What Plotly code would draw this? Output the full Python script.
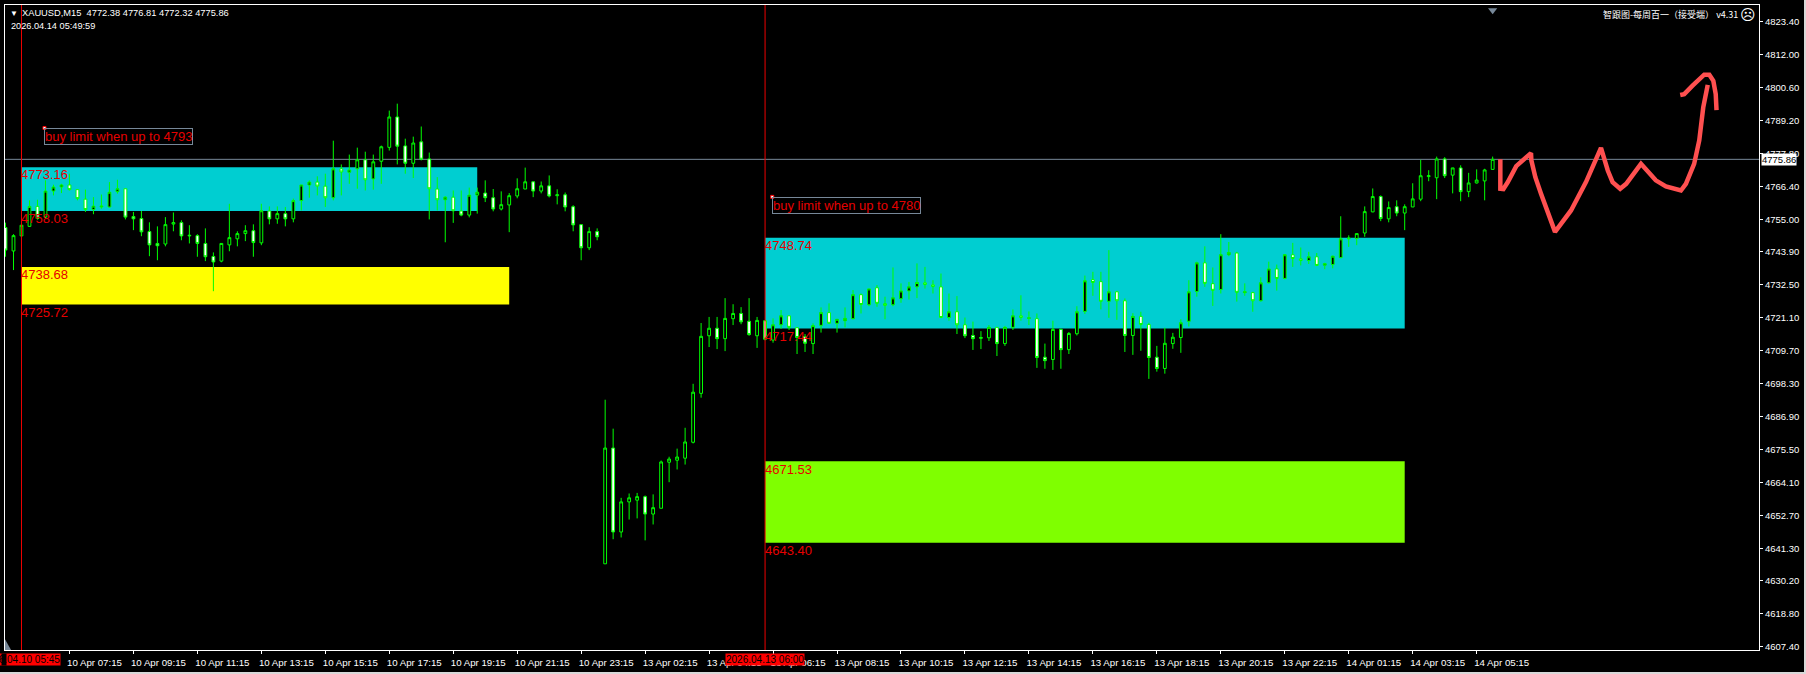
import plotly.graph_objects as go

# (open, high, low, close) per bar
opens = [4752.3,4744.2,4749.4,4752.7,4759.6,4755.9,4764.9,4766.3,4767.0,4765.4,4762.1,4758.5,4759.4,4759.4,4764.7,4765.7,4756.1,4755.4,4750.9,4746.8,
4746.6,4753.5,4754.0,4749.4,4749.5,4746.8,4742.3,4740.7,4746.3,4748.4,4750.2,4751.2,4747.0,4758.0,4755.3,4757.1,4755.3,4761.6,4767.0,4768.0,
4766.6,4762.6,4772.6,4771.4,4772.6,4775.7,4769.1,4775.2,4780.0,4790.5,4780.5,4774.5,4781.9,4776.0,4765.6,4761.9,4762.8,4758.0,4756.6,4763.5,
4764.2,4762.6,4758.7,4760.1,4763.2,4765.6,4768.1,4764.9,4766.7,4763.3,4763.6,4759.5,4753.3,4745.3,4750.9,
4636.1,4676.1,4647.1,4657.5,4658.1,4659.3,4653.3,4655.3,4671.2,4671.9,4672.6,4678.1,4695.0,4714.9,4717.5,4713.9,4720.8,4722.6,4719.9,4714.9,
4720.1,4713.4,4718.7,4721.8,4717.7,4714.6,4712.2,4718.5,4722.9,4719.2,4720.1,4720.8,4729.1,4725.6,4731.5,4726.0,4725.6,4727.7,4730.4,4731.8,
4733.2,4732.5,4731.8,4721.2,4723.2,4718.7,4715.0,4714.0,4714.2,4717.8,4712.2,4717.8,4721.8,4720.9,4720.8,4707.5,4706.7,4717.1,4710.1,4715.6,
4723.3,4734.3,4733.6,4726.8,4730.1,4727.0,4715.0,4721.6,4718.8,4707.5,4703.6,4712.2,4714.3,4719.9,4730.2,4740.1,4732.9,4730.9,4742.9,4743.5,
4729.8,4729.8,4727.0,4733.2,4738.0,4734.7,4742.9,4741.5,4740.9,4742.2,4739.3,4739.5,4741.9,4748.4,4748.5,4750.4,4757.7,4763.0,4755.3,4759.5,
4757.3,4759.4,4762.1,4769.9,4769.5,4776.0,4770.4,4772.9,4764.7,4767.7,4768.4,4772.38]
highs = [4754.0,4750.0,4753.1,4761.7,4761.9,4768.6,4767.1,4767.4,4770.9,4765.4,4765.4,4762.8,4763.7,4768.0,4768.8,4765.7,4757.7,4758.0,4754.1,4752.7,
4755.9,4757.5,4754.8,4753.1,4750.0,4752.0,4743.7,4746.8,4760.5,4751.0,4753.1,4753.4,4760.5,4759.6,4759.6,4759.4,4762.3,4767.0,4768.6,4770.0,
4770.9,4782.3,4774.1,4777.5,4779.9,4778.5,4777.5,4780.6,4792.7,4795.1,4783.0,4783.7,4787.2,4778.2,4769.7,4763.1,4765.1,4765.1,4766.1,4766.1,
4768.6,4765.6,4764.8,4764.2,4769.3,4773.0,4768.1,4768.2,4770.3,4765.5,4764.4,4760.0,4753.3,4752.4,4752.0,
4692.8,4682.8,4658.9,4660.4,4660.6,4659.7,4660.1,4671.8,4673.1,4675.9,4683.1,4698.3,4719.3,4721.4,4721.4,4727.9,4725.8,4724.8,4727.9,4721.4,
4720.3,4720.9,4723.8,4721.8,4717.7,4715.5,4719.2,4724.7,4726.1,4720.6,4724.7,4730.7,4729.5,4731.1,4732.4,4728.4,4738.5,4733.0,4733.5,4739.9,
4738.7,4734.1,4736.4,4729.5,4728.6,4721.2,4719.8,4716.5,4718.6,4717.8,4718.3,4724.0,4728.9,4723.3,4722.6,4712.2,4720.1,4717.4,4716.2,4725.1,
4735.7,4737.0,4737.0,4744.5,4730.4,4727.8,4722.7,4723.2,4719.4,4711.4,4717.7,4715.9,4720.6,4734.1,4740.5,4745.8,4738.5,4750.0,4747.3,4743.9,
4733.0,4730.1,4735.1,4740.5,4739.5,4743.1,4747.0,4745.4,4743.9,4743.5,4740.1,4742.6,4756.2,4749.6,4750.2,4759.6,4765.8,4763.4,4761.3,4761.7,
4760.3,4767.6,4775.7,4772.1,4776.8,4776.6,4772.9,4773.8,4771.2,4772.4,4772.6,4776.81]
lows = [4742.2,4737.6,4749.4,4752.5,4755.0,4755.4,4763.4,4764.2,4765.1,4761.7,4757.7,4756.9,4758.8,4759.2,4764.0,4755.1,4751.4,4749.3,4742.4,4741.0,
4745.8,4751.0,4747.9,4746.8,4742.2,4740.7,4730.3,4740.3,4744.1,4745.8,4747.6,4742.2,4746.2,4753.4,4753.6,4752.7,4754.1,4758.2,4762.6,4763.4,
4759.4,4761.7,4763.4,4767.4,4765.7,4765.1,4765.4,4767.4,4778.9,4774.1,4770.9,4769.4,4775.5,4755.1,4758.2,4747.2,4753.9,4756.2,4755.8,4757.1,
4761.1,4757.9,4758.2,4750.7,4762.4,4765.6,4762.8,4764.1,4762.7,4760.3,4757.9,4751.0,4741.0,4744.5,4747.9,
4636.1,4644.6,4645.2,4651.4,4651.8,4644.2,4649.7,4655.3,4664.3,4668.7,4670.4,4677.7,4693.5,4711.0,4710.3,4709.6,4718.6,4718.9,4714.9,4710.7,
4713.3,4712.5,4717.3,4716.9,4708.6,4709.3,4708.6,4716.0,4719.0,4716.0,4717.8,4720.6,4722.6,4725.1,4724.9,4720.6,4725.1,4726.3,4727.4,4727.9,
4731.2,4729.5,4721.2,4720.1,4715.5,4714.1,4710.0,4710.3,4713.1,4707.9,4711.4,4716.9,4720.1,4718.6,4703.8,4703.5,4703.1,4703.5,4708.6,4715.0,
4722.4,4728.7,4724.0,4721.1,4720.4,4709.3,4708.3,4709.7,4700.0,4702.5,4701.8,4710.4,4709.0,4718.1,4728.4,4731.8,4725.2,4729.5,4742.4,4726.7,
4728.7,4723.2,4726.7,4733.0,4730.5,4734.4,4738.7,4739.2,4739.7,4739.0,4737.9,4738.2,4741.7,4745.6,4746.2,4749.1,4757.6,4754.5,4754.1,4756.2,
4751.4,4759.4,4761.4,4768.3,4762.1,4769.4,4764.1,4761.4,4762.8,4767.5,4761.7,4772.32]
closes = [4744.5,4749.5,4753.1,4759.6,4755.4,4764.9,4766.3,4767.0,4765.4,4762.3,4758.5,4759.7,4759.7,4764.5,4765.7,4755.9,4755.3,4750.8,4746.3,4746.0,
4753.3,4754.0,4749.4,4749.6,4746.8,4742.2,4740.4,4746.8,4748.8,4750.2,4751.2,4747.1,4758.1,4755.3,4757.1,4755.3,4761.6,4767.0,4768.0,4766.6,
4762.6,4772.6,4771.5,4772.2,4775.7,4768.8,4775.0,4780.2,4790.5,4780.4,4774.5,4781.5,4775.9,4765.7,4761.9,4762.8,4758.1,4756.6,4763.5,4764.5,
4762.6,4758.7,4760.2,4763.3,4765.7,4768.1,4764.9,4766.7,4763.2,4763.6,4759.4,4753.2,4745.3,4750.9,4749.1,
4676.1,4647.1,4657.5,4658.9,4659.3,4653.3,4655.5,4671.3,4672.3,4673.0,4678.2,4695.4,4714.7,4717.5,4713.9,4720.9,4722.6,4719.7,4715.3,4720.2,
4713.7,4718.7,4721.8,4717.8,4714.3,4712.3,4718.4,4722.9,4719.2,4720.6,4720.9,4729.1,4725.7,4731.1,4726.1,4725.4,4728.0,4730.4,4731.8,4733.3,
4732.6,4731.9,4721.2,4723.2,4718.7,4714.9,4713.9,4714.3,4717.8,4712.2,4717.8,4721.8,4721.2,4721.1,4707.4,4706.3,4717.1,4710.1,4715.7,4723.2,
4733.9,4733.3,4726.8,4730.1,4727.0,4715.0,4721.6,4718.8,4707.4,4703.6,4712.3,4714.4,4719.4,4730.1,4740.1,4733.0,4730.6,4742.9,4743.7,4729.9,
4730.1,4727.0,4733.2,4738.0,4734.7,4742.9,4741.6,4740.9,4742.2,4739.2,4739.8,4742.4,4748.4,4748.6,4750.2,4757.8,4763.0,4755.4,4759.2,4757.3,
4759.5,4762.2,4770.2,4770.2,4776.0,4770.2,4772.9,4764.7,4767.7,4768.7,4772.2,4775.86]

bar_index = list(range(len(closes)))

tick_labels = ["10 Apr 07:15","10 Apr 09:15","10 Apr 11:15","10 Apr 13:15","10 Apr 15:15","10 Apr 17:15","10 Apr 19:15",
               "10 Apr 21:15","10 Apr 23:15","13 Apr 02:15","13 Apr 04:15","13 Apr 06:15","13 Apr 08:15","13 Apr 10:15",
               "13 Apr 12:15","13 Apr 14:15","13 Apr 16:15","13 Apr 18:15","13 Apr 20:15","13 Apr 22:15","14 Apr 01:15",
               "14 Apr 03:15","14 Apr 05:15"]
tick_bars = [8, 16, 24, 32, 40, 48, 56, 64, 72, 80, 88, 96, 104, 112, 120, 128, 136, 144, 152, 160, 168, 176, 184]

price_ticks = [4823.4,4812.0,4800.6,4789.2,4777.8,4766.4,4755.0,4743.9,4732.5,4721.1,4709.7,4698.3,4686.9,4675.5,4664.1,4652.7,4641.3,4630.2,4618.8,4607.4]
price_labels = [f"{p:.2f}" for p in price_ticks]

last_price = 4775.86
marker_bars = [2, 95]
marker_times = ["2026.04.10 05:45", "2026.04.13 06:00"]

zone_bars = [(2, 59), (2, 63), (95, 175), (95, 175)]
zone_prices = [(4773.16, 4758.03), (4738.68, 4725.72), (4748.74, 4717.44), (4671.53, 4643.40)]
zone_colors = ["#00ced1", "#ffff00", "#00ced1", "#7fff00"]

note_bars = [4.875, 95.9]
note_prices = [4786.7, 4762.9]
note_texts = ["buy limit when up to 4793", "buy limit when up to 4780"]

sketch_x = [186.96,186.96,187.34,187.9,188.95,190.8,190.84,191.34,192.05,193.8,195.8,197.67,199.55,200.4,201.0,201.95,202.7,204.55,206.4,207.67,209.55,210.17,211.2,211.84,212.34,212.9,
            None,209.46,209.96,211.0,212.46,213.1,213.6,213.9,214.0]
sketch_y = [4775.9,4765.7,4765.6,4768.0,4773.5,4778.0,4775.5,4769.7,4764.0,4750.8,4758.2,4768.0,4779.8,4772.0,4768.0,4765.7,4767.4,4774.3,4768.6,4766.5,4765.1,4767.4,4774.3,4782.4,4793.8,4801.6,
            None,4798.1,4798.4,4801.3,4805.1,4805.1,4803.0,4798.4,4792.9]

W, H = 1804, 672
ML, MR, MT, MB = 4, 45, 4, 21
FONT = "Liberation Sans"
fig = go.Figure()

fig.add_trace(go.Candlestick(
    x=bar_index, open=opens, high=highs, low=lows, close=closes,
    increasing=dict(line=dict(color="#00ff00", width=1), fillcolor="#000000"),
    decreasing=dict(line=dict(color="#00ff00", width=1), fillcolor="#ffffff"),
    whiskerwidth=0, showlegend=False, hoverinfo="skip"))

fig.add_trace(go.Scatter(x=sketch_x, y=sketch_y, mode="lines", connectgaps=False,
                         line=dict(color="#ff5050", width=4.5),
                         showlegend=False, hoverinfo="skip"))
fig.add_trace(go.Scatter(x=note_bars, y=note_prices, mode="markers",
                         marker=dict(symbol="square", size=3, color="#ffffff", line=dict(color="#ff0000", width=1)),
                         showlegend=False, hoverinfo="skip"))
fig.add_trace(go.Scatter(x=[186], y=[4827.4], mode="markers",
                         marker=dict(symbol="triangle-down", size=8, color="#778899", line=dict(width=0)),
                         showlegend=False, hoverinfo="skip"))

shapes = []
for (b0, b1), (hi, lo), c in zip(zone_bars, zone_prices, zone_colors):
    shapes.append(dict(type="rect", layer="below", x0=b0, x1=b1, y0=lo, y1=hi, fillcolor=c, line=dict(width=0)))
shapes.append(dict(type="line", layer="below", xref="paper", x0=0, x1=1, y0=last_price, y1=last_price,
                   line=dict(color="#778899", width=1)))
for b in marker_bars:
    shapes.append(dict(type="line", layer="above", yref="paper", x0=b, x1=b, y0=0, y1=1,
                       line=dict(color="#ee0000", width=1)))
shapes.append(dict(type="path", layer="above", path="M -0.06 4606.3 L -0.06 4610.0 L 0.7 4606.3 Z",
                   fillcolor="#778899", line=dict(width=0)))

ann = []
def label(x, y, text, **kw):
    base = dict(x=x, y=y, text=text, showarrow=False, xanchor="left", yanchor="middle",
                font=dict(family=FONT, size=13, color="#e60000"))
    base.update(kw)
    ann.append(base)

for (b0, _), (hi, lo) in zip(zone_bars, zone_prices):
    label(b0, hi, f"{hi:.2f}", yshift=-7.8, xshift=-2)
    label(b0, lo, f"{lo:.2f}", yshift=-7.8, xshift=-2)

for b, p, t in zip(note_bars, note_prices, note_texts):
    label(b, p, t, yanchor="top", xshift=0, yshift=0, bordercolor="#778899", borderwidth=1, borderpad=0)

for b, t in zip(marker_bars, marker_times):
    ann.append(dict(x=b, y=0, yref="paper", text=t, showarrow=False, xanchor="center", yanchor="top", yshift=-3,
                    bgcolor="#ff0000", borderpad=0, font=dict(family=FONT, size=10, color="#000000")))
ann.append(dict(xref="paper", yref="paper", x=-0.0025, y=0, xanchor="left", yanchor="top", yshift=-3, text=" ", width=4,
                showarrow=False, bgcolor="#000000", borderpad=0, font=dict(size=10)))

ann.append(dict(xref="paper", x=1, xanchor="left", y=last_price, xshift=2, text="4775.86", showarrow=False, bgcolor="#ffffff",
                borderpad=0, font=dict(family=FONT, size=9.5, color="#000000")))

def pixel_text(px, py, text, size, family=FONT, color="#ffffff", anchor="left"):
    ann.append(dict(xref="paper", yref="paper", x=(px - ML) / (W - ML - MR), y=1 - (py - MT) / (H - MT - MB),
                    xanchor=anchor, yanchor="middle", text=text, showarrow=False, font=dict(family=family, size=size, color=color)))

pixel_text(7, 12.5, "▼", 8)
pixel_text(19, 12.5, "XAUUSD,M15  4772.38 4776.81 4772.32 4775.86", 9.3)
pixel_text(8.5, 25, "2026.04.14 05:49:59", 9.2)
pixel_text(1740, 14, "智跟图-每周百一（接受端） v4.31", 9, family="Noto Sans CJK SC", anchor="right")
pixel_text(1748, 14, "☹", 15, family="DejaVu Sans", anchor="center")

fig.update_layout(
    width=W, height=H, margin=dict(l=ML, r=MR, t=MT, b=MB, pad=0),
    paper_bgcolor="#000000", plot_bgcolor="#000000", dragmode=False, boxgap=0.5,
    font=dict(family=FONT, size=9.7, color="#ffffff"),
    shapes=shapes, annotations=ann,
    xaxis=dict(range=[-0.0625, 219.3125], rangeslider=dict(visible=False), showgrid=False, zeroline=False,
               tickmode="array", tickvals=tick_bars, ticktext=tick_labels,
               ticks="outside", ticklen=3, tickwidth=1, tickcolor="#ffffff", tickangle=0, ticklabelshift=25,
               showline=True, linecolor="#ffffff", linewidth=1, mirror=True,
               tickfont=dict(family=FONT, size=9.7, color="#ffffff")),
    yaxis=dict(range=[4606.32, 4829.19], side="right", showgrid=False, zeroline=False,
               tickmode="array", tickvals=price_ticks, ticktext=price_labels,
               ticks="outside", ticklen=3, tickwidth=1, tickcolor="#ffffff",
               showline=True, linecolor="#ffffff", linewidth=1, mirror=True,
               tickfont=dict(family=FONT, size=9.5, color="#ffffff")),
)

fig.write_html("out.html", config=dict(displayModeBar=False, staticPlot=True),
               post_script="document.body.style.margin='0';document.body.style.background='#d8d8d8';document.body.style.overflow='hidden';")
